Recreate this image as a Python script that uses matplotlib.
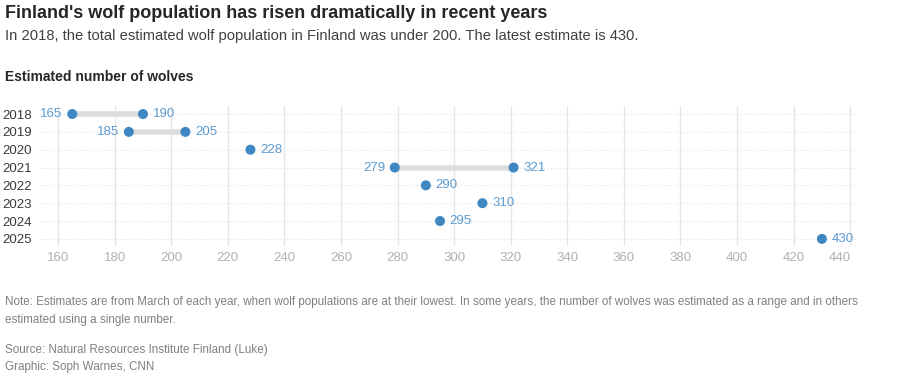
import matplotlib
matplotlib.use("Agg")
import matplotlib.pyplot as plt
import matplotlib.transforms as mtransforms

years = ["2018", "2019", "2020", "2021", "2022", "2023", "2024", "2025"]
low = [165, 185, 228, 279, 290, 310, 295, 430]
high = [190, 205, None, 321, None, None, None, None]
xticks = [160, 180, 200, 220, 240, 260, 280, 300, 320, 340, 360, 380, 400, 420, 440]

plt.rcParams['font.family'] = ['Liberation Sans', 'DejaVu Sans']

W, H = 900, 385
fig = plt.figure(figsize=(9, 3.85), dpi=100)
ax = fig.add_axes([40 / W, 1 - 246 / H, (857 - 40) / W, (246 - 106) / H])

dot_c = "#3e87c2"
lab_c = "#5b9bd1"
ax.set_xlim(153.6, 442.4)
ax.set_ylim(7.4, -0.45)

for x in xticks:
    ax.axvline(x, color="#e6e6e6", lw=1, zorder=0)
for i in range(len(years)):
    ax.axhline(i, color="#e0e0e0", lw=0.8, ls=(0, (1, 2)), zorder=0)

for i, (lo, hi) in enumerate(zip(low, high)):
    if hi is not None:
        ax.plot([lo, hi], [i, i], color="#dddddd", lw=4, solid_capstyle="butt", zorder=1)
        ax.scatter([lo, hi], [i, i], s=52, color=dot_c, zorder=3, edgecolors="none")
        ax.annotate(str(lo), (lo, i), xytext=(-7, 0), textcoords="offset points",
                    ha="right", va="center", color=lab_c, fontsize=9.5)
        ax.annotate(str(hi), (hi, i), xytext=(7, 0), textcoords="offset points",
                    ha="left", va="center", color=lab_c, fontsize=9.5)
    else:
        ax.scatter([lo], [i], s=52, color=dot_c, zorder=3, edgecolors="none")
        ax.annotate(str(lo), (lo, i), xytext=(7, 0), textcoords="offset points",
                    ha="left", va="center", color=lab_c, fontsize=9.5)

ax.set_yticks(range(len(years)))
ax.set_yticklabels(years, fontsize=9.5, color="#3a3a3a")
ax.set_xticks(xticks)
ax.set_xticklabels([str(x) for x in xticks], fontsize=9.5, color="#b0b0b0")
ax.tick_params(axis="x", length=0, pad=4)
ax.tick_params(axis="y", length=0, pad=6)
for s in ax.spines.values():
    s.set_visible(False)
last = ax.get_xticklabels()[-1]
last.set_transform(last.get_transform() + mtransforms.ScaledTranslation(-10 / 100, 0, fig.dpi_scale_trans))

fig.text(5 / W, 1 - 13 / H, "Finland's wolf population has risen dramatically in recent years",
         fontsize=13.0, fontweight="bold", color="#262626", va="center")
fig.text(5 / W, 1 - 36 / H, "In 2018, the total estimated wolf population in Finland was under 200. The latest estimate is 430.",
         fontsize=10.6, color="#404040", va="center")
fig.text(5 / W, 1 - 77 / H, "Estimated number of wolves",
         fontsize=10, fontweight="bold", color="#262626", va="center")
note_c = "#808080"
note_fs = 8.4
fig.text(5 / W, 1 - 302 / H, "Note: Estimates are from March of each year, when wolf populations are at their lowest. In some years, the number of wolves was estimated as a range and in others",
         fontsize=note_fs, color=note_c, va="center")
fig.text(5 / W, 1 - 320 / H, "estimated using a single number.",
         fontsize=note_fs, color=note_c, va="center")
fig.text(5 / W, 1 - 350 / H, "Source: Natural Resources Institute Finland (Luke)",
         fontsize=note_fs, color=note_c, va="center")
fig.text(5 / W, 1 - 367 / H, "Graphic: Soph Warnes, CNN",
         fontsize=note_fs, color=note_c, va="center")

fig.savefig("out.png", dpi=100, facecolor="white")
